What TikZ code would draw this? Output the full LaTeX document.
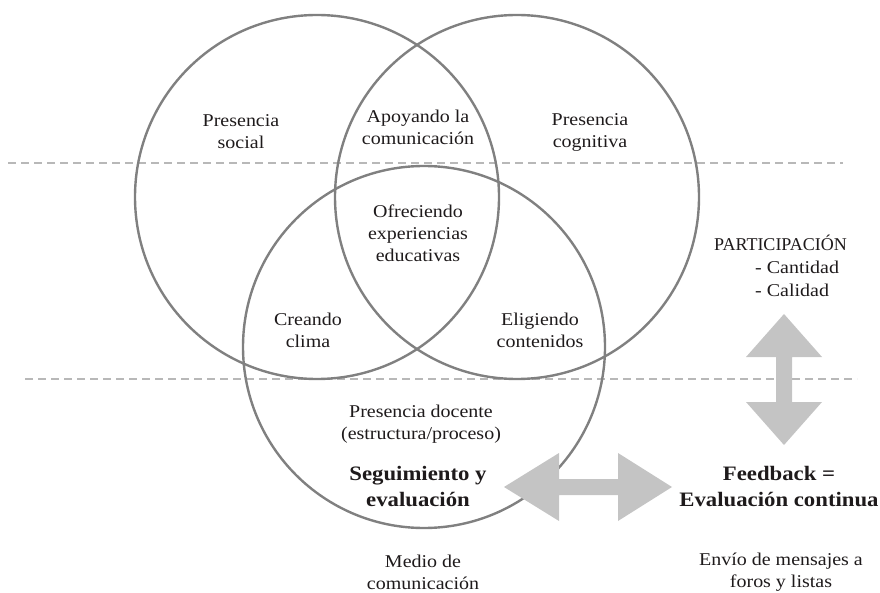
\documentclass[tikz,border=0pt]{standalone}
\usepackage{fontspec}
\setmainfont{Liberation Serif}[FakeStretch=1.11]
\newfontfamily\capsfont{Liberation Serif}
\definecolor{circgray}{HTML}{808080}
\definecolor{dashgray}{HTML}{B8B8B8}
\definecolor{arrgray}{HTML}{C4C4C4}
\definecolor{txt}{HTML}{1E1A1B}
\begin{document}
\begin{tikzpicture}[x=1pt,y=-1pt,
  venn/.style={draw=circgray, line width=2.4pt},
  guide/.style={draw=dashgray, line width=2.4pt, dash pattern=on 8pt off 5pt},
  lbl/.style={font=\fontsize{18}{22}\selectfont, text=txt, align=center, inner sep=0pt},
  blbl/.style={font=\fontsize{20.5}{26}\selectfont\bfseries, text=txt, align=center, inner sep=0pt},
  bigarrow/.style={fill=arrgray, draw=none}]
\useasboundingbox (0,0) rectangle (880,593);
% guide lines
\coordinate (g1a) at (8,163); \coordinate (g1b) at (843,163);
\coordinate (g2a) at (25,379); \coordinate (g2b) at (857,379);
\draw[guide] (g1a) -- (g1b);
\draw[guide] (g2a) -- (g2b);
% circles
\draw[venn] (317,197) circle[radius=182];
\draw[venn] (517,197) circle[radius=182];
\draw[venn] (424,347) circle[radius=181];
% big arrows
\fill[bigarrow] (784,314) -- (822,357) -- (792,357) -- (792,402) -- (822,402) -- (784,445)
  -- (746,402) -- (776,402) -- (776,357) -- (746,357) -- cycle;
\fill[bigarrow] (504,487) -- (559,453) -- (559,479) -- (618,479) -- (618,453) -- (672,487)
  -- (618,521) -- (618,495) -- (559,495) -- (559,521) -- cycle;
% labels
\node[lbl] (ps) at (241,132) {Presencia\\social};
\node[lbl] (ac) at (418,127) {Apoyando la\\comunicación};
\node[lbl] (pc) at (590,132) {Presencia\\cognitiva};
\node[lbl] (oe) at (418,233) {Ofreciendo\\experiencias\\educativas};
\node[lbl] (cc) at (308,330) {Creando\\clima};
\node[lbl] (ec) at (540,330) {Eligiendo\\contenidos};
\node[lbl] (pd) at (421,424) {Presencia docente\\(estructura/proceso)};
\node[blbl] (se) at (418,487) {Seguimiento y\\evaluación};
\node[lbl, font=\fontsize{18}{22}\selectfont\capsfont, anchor=base west] (part) at (714,251) {PARTICIPACIÓN};
\node[lbl, anchor=base west] (cant) at (755,274) {- Cantidad};
\node[lbl, anchor=base west] (cal) at (755,297) {- Calidad};
\node[blbl] (fb) at (779,487) {Feedback =\\Evaluación continua};
\node[lbl] (mc) at (423,572) {Medio de\\comunicación};
\node[lbl] (em) at (781,572) {Envío de mensajes a\\foros y listas};
\end{tikzpicture}
\end{document}
